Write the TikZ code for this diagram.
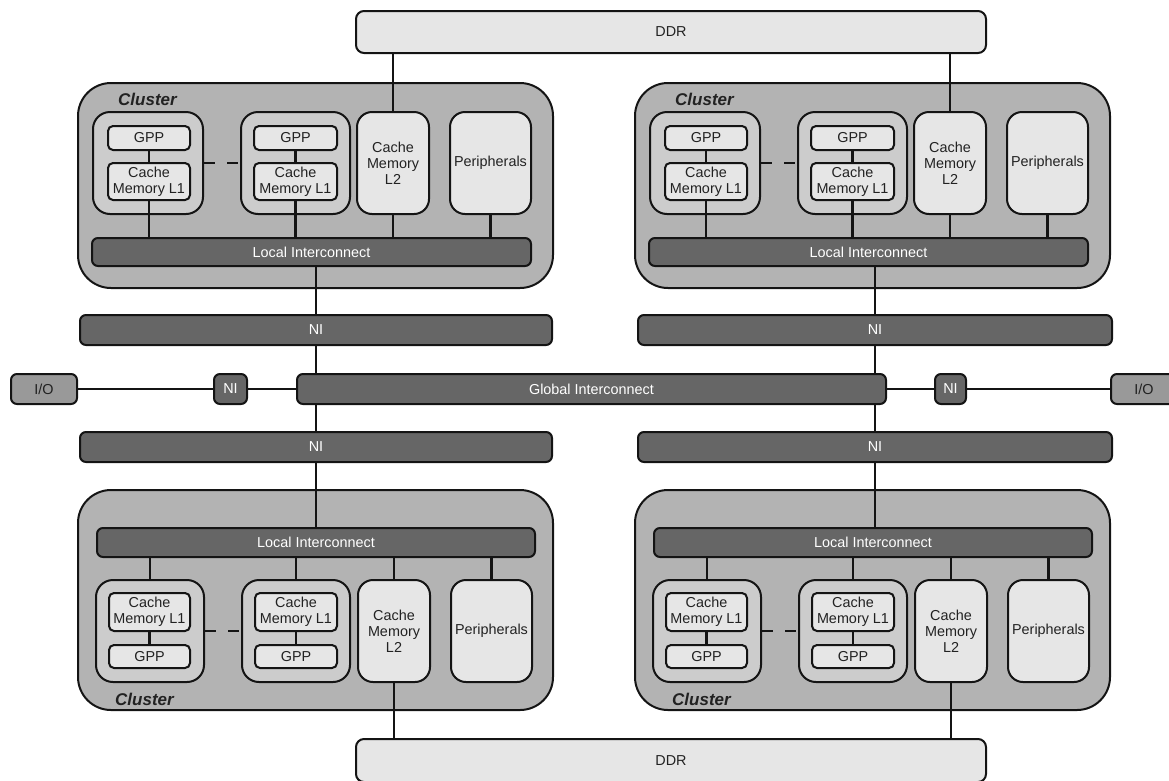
\documentclass[tikz,border=0pt]{standalone}
\usepackage{fontspec}
\setmainfont{Liberation Sans}
\definecolor{clfill}{HTML}{B3B3B3}
\definecolor{corefill}{HTML}{CCCCCC}
\definecolor{lightfill}{HTML}{E6E6E6}
\definecolor{darkfill}{HTML}{666666}
\definecolor{iofill}{HTML}{999999}
\definecolor{edgecol}{HTML}{141414}
\definecolor{txtcol}{HTML}{222222}
\tikzset{
 base/.style={draw=edgecol, line width=2pt, inner sep=0pt, align=center,
   font=\fontsize{14.4}{16}\selectfont, text=txtcol},
 clusterbox/.style={base, fill=clfill, rounded corners=33pt},
 corebox/.style={base, fill=corefill, rounded corners=17pt},
 smallbox/.style={base, fill=lightfill, rounded corners=5pt},
 tallbox/.style={base, fill=lightfill, rounded corners=15pt},
 ddrbox/.style={base, fill=lightfill, rounded corners=8pt},
 darkbox/.style={base, fill=darkfill, text=white, rounded corners=6pt},
 iobox/.style={base, fill=iofill, rounded corners=6pt},
 wire/.style={draw=edgecol, line width=2.1pt},
 dashwire/.style={wire, dash pattern=on 11pt off 12pt},
 clusterlabel/.style={font=\fontsize{17}{20}\selectfont\bfseries\itshape, text=txtcol, inner sep=0pt},
}
\newcommand\bx[7]{\node[#6, minimum width={(#4)-(#2)}, minimum height={(#5)-(#3)}] (#1) at ({((#2)+(#4))/2},{((#3)+(#5))/2}) {#7};}
\newcommand\topcluster[2]{%
 \bx{#1cl}{78+#2}{83}{553+#2}{288}{clusterbox}{}
 \node[clusterlabel, anchor=west] (#1lab) at (118+#2, 99) {Cluster};
 \bx{#1ca}{93+#2}{112}{203+#2}{214}{corebox}{}
 \bx{#1ga}{108+#2}{126}{190+#2}{150}{smallbox}{GPP}
 \bx{#1ma}{108+#2}{163}{190+#2}{200}{smallbox}{Cache\\Memory L1}
 \bx{#1cb}{241+#2}{112}{350+#2}{214}{corebox}{}
 \bx{#1gb}{254+#2}{126}{337+#2}{150}{smallbox}{GPP}
 \bx{#1mb}{254+#2}{163}{337+#2}{200}{smallbox}{Cache\\Memory L1}
 \bx{#1lt}{357+#2}{112}{429+#2}{214}{tallbox}{Cache\\Memory\\L2}
 \bx{#1pe}{450+#2}{112}{531+#2}{214}{tallbox}{Peripherals}
 \bx{#1li}{92+#2}{238}{531+#2}{266}{darkbox}{Local Interconnect}
 \draw[wire] (#1ga.south) -- (#1ma.north);
 \draw[wire] (#1gb.south) -- (#1mb.north);
 \draw[wire] (#1ma.south) -- (#1ma.south |- #1li.north);
 \draw[wire] (#1mb.south) -- (#1mb.south |- #1li.north);
 \draw[wire] (#1lt.south) -- (#1lt.south |- #1li.north);
 \draw[wire] (#1pe.south) -- (#1pe.south |- #1li.north);
 \draw[dashwire] (#1ca.east) -- (#1cb.west);
}
\newcommand\botcluster[2]{%
 \bx{#1cl}{78+#2}{490}{553+#2}{710}{clusterbox}{}
 \node[clusterlabel, anchor=west] (#1lab) at (115+#2, 699) {Cluster};
 \bx{#1li}{97+#2}{528}{535+#2}{557}{darkbox}{Local Interconnect}
 \bx{#1ca}{96+#2}{580}{204+#2}{682}{corebox}{}
 \bx{#1ma}{109+#2}{593}{190+#2}{631}{smallbox}{Cache\\Memory L1}
 \bx{#1ga}{109+#2}{645}{190+#2}{668}{smallbox}{GPP}
 \bx{#1cb}{242+#2}{580}{350+#2}{682}{corebox}{}
 \bx{#1mb}{255+#2}{593}{337+#2}{631}{smallbox}{Cache\\Memory L1}
 \bx{#1gb}{255+#2}{645}{337+#2}{668}{smallbox}{GPP}
 \bx{#1lt}{358+#2}{580}{430+#2}{682}{tallbox}{Cache\\Memory\\L2}
 \bx{#1pe}{451+#2}{580}{532+#2}{682}{tallbox}{Peripherals}
 \draw[wire] (#1ma.south) -- (#1ga.north);
 \draw[wire] (#1mb.south) -- (#1gb.north);
 \draw[wire] (#1ca.north) -- (#1ca.north |- #1li.south);
 \draw[wire] (#1cb.north) -- (#1cb.north |- #1li.south);
 \draw[wire] (#1lt.north) -- (#1lt.north |- #1li.south);
 \draw[wire] (#1pe.north) -- (#1pe.north |- #1li.south);
 \draw[dashwire] (#1ca.east) -- (#1cb.west);
}
\begin{document}
\begin{tikzpicture}[x=1pt,y=-1pt]
\useasboundingbox (0,0) rectangle (1169,780);
% DDR top and bottom
\bx{ddrt}{356}{11}{986}{53}{ddrbox}{DDR}
\bx{ddrb}{356}{739}{986}{782}{ddrbox}{DDR}
% clusters
\topcluster{tl}{0}
\topcluster{tr}{557}
\botcluster{bl}{0}
\botcluster{br}{557}
\draw[wire] (tllt.north) -- (tllt.north |- ddrt.south);
\draw[wire] (trlt.north) -- (trlt.north |- ddrt.south);
\draw[wire] (bllt.south) -- (bllt.south |- ddrb.north);
\draw[wire] (brlt.south) -- (brlt.south |- ddrb.north);
% network interfaces
\bx{nitl}{80}{315}{552}{345}{darkbox}{NI}
\bx{nitr}{638}{315}{1112}{345}{darkbox}{NI}
\bx{nibl}{80}{432}{552}{462}{darkbox}{NI}
\bx{nibr}{638}{432}{1112}{462}{darkbox}{NI}
\bx{gi}{297}{374}{886}{404}{darkbox}{Global Interconnect}
\bx{iol}{11}{374}{77}{404}{iobox}{I/O}
\bx{nil}{214}{374}{247}{404}{darkbox}{NI}
\bx{nir}{935}{374}{966}{404}{darkbox}{NI}
\bx{ior}{1111}{374}{1177}{404}{iobox}{I/O}
\draw[wire] (iol.east) -- (nil.west);
\draw[wire] (nil.east) -- (gi.west);
\draw[wire] (gi.east) -- (nir.west);
\draw[wire] (nir.east) -- (ior.west);
% verticals
\draw[wire] (nitl.north) -- (nitl.north |- tlli.south);
\draw[wire] (nitr.north) -- (nitr.north |- trli.south);
\draw[wire] (nitl.south) -- (nitl.south |- gi.north);
\draw[wire] (nitr.south) -- (nitr.south |- gi.north);
\draw[wire] (nibl.north) -- (nibl.north |- gi.south);
\draw[wire] (nibr.north) -- (nibr.north |- gi.south);
\draw[wire] (nibl.south) -- (nibl.south |- blli.north);
\draw[wire] (nibr.south) -- (nibr.south |- brli.north);
\end{tikzpicture}
\end{document}
